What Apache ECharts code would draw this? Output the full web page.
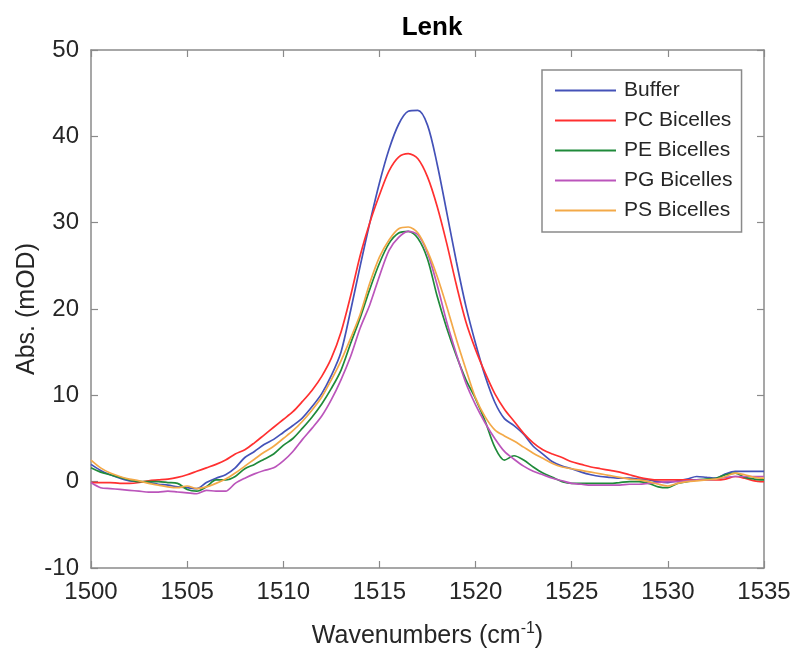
<!DOCTYPE html>
<html>
<head>
<meta charset="utf-8">
<script src="https://cdn.jsdelivr.net/npm/echarts@6/dist/echarts.min.js"></script>
<style>
html,body{margin:0;padding:0;background:#fff;}
#chart{width:793px;height:651px;}
</style>
</head>
<body>
<div id="chart"></div>
<script>
// Wavenumbers (cm^-1), 0.5 step
const wavenumbers = [];
for (let i = 0; i <= 70; i++) wavenumbers.push(1500 + i * 0.5);

const seriesNames = ['Buffer', 'PC Bicelles', 'PE Bicelles', 'PG Bicelles', 'PS Bicelles'];

const buffer = [
  2.0, 1.3, 0.8, 0.4, 0.1, 0.0, -0.1, -0.3, -0.4, -0.6,
  -0.7, -0.8, -0.1, 0.4, 0.8, 1.6, 2.8, 3.5, 4.3, 4.9,
  5.7, 6.5, 7.4, 8.7, 10.2, 12.3, 15.0, 19.8, 25.0, 30.0,
  34.6, 38.5, 41.4, 42.9, 43.0, 41.3, 36.8, 31.2, 25.5, 20.3,
  16.0, 12.2, 9.2, 7.3, 6.5, 5.5, 4.1, 3.2, 2.3, 1.8,
  1.5, 1.1, 0.8, 0.6, 0.5, 0.4, 0.4, 0.3, 0.2, 0.0,
  -0.1, 0.1, 0.3, 0.6, 0.5, 0.4, 0.9, 1.2, 1.2, 1.2, 1.2
];
const pcBicelles = [
  -0.1, -0.1, -0.1, -0.2, -0.2, -0.1, 0.1, 0.2, 0.3, 0.5,
  0.8, 1.2, 1.6, 2.0, 2.5, 3.2, 3.7, 4.5, 5.4, 6.3,
  7.2, 8.1, 9.3, 10.6, 12.2, 14.3, 17.3, 21.5, 26.2, 30.0,
  33.2, 36.0, 37.6, 38.0, 37.4, 35.3, 31.9, 27.6, 22.8, 18.5,
  15.3, 12.6, 10.2, 8.4, 7.0, 5.6, 4.5, 3.7, 3.2, 2.8,
  2.3, 2.0, 1.7, 1.5, 1.3, 1.1, 0.8, 0.5, 0.3, 0.2,
  0.2, 0.2, 0.2, 0.2, 0.2, 0.2, 0.3, 0.6, 0.4, 0.1, 0.0
];
const peBicelles = [
  1.6, 1.1, 0.8, 0.5, 0.2, 0.0, 0.0, 0.0, -0.1, -0.2,
  -0.9, -1.1, -0.6, 0.2, 0.2, 0.6, 1.5, 2.0, 2.6, 3.2,
  4.2, 5.0, 6.2, 7.5, 9.0, 10.8, 12.9, 16.0, 19.0, 22.3,
  25.3, 27.6, 28.8, 29.0, 28.2, 25.8, 21.5, 17.8, 14.6, 11.8,
  9.6, 7.0, 4.0, 2.5, 3.0, 2.5, 1.7, 1.0, 0.5, 0.0,
  -0.2, -0.2, -0.2, -0.2, -0.2, -0.1, 0.0, 0.0, -0.2, -0.6,
  -0.7, -0.2, 0.0, 0.2, 0.3, 0.4, 0.8, 1.0, 0.5, 0.3, 0.2
];
const pgBicelles = [
  -0.1, -0.7, -0.8, -0.9, -1.0, -1.1, -1.2, -1.2, -1.1, -1.2,
  -1.3, -1.4, -1.0, -1.1, -1.1, -0.2, 0.4, 0.9, 1.3, 1.6,
  2.4, 3.5, 4.9, 6.2, 7.6, 9.5, 11.8, 14.5, 17.8, 20.5,
  23.8, 26.8, 28.3, 29.0, 28.6, 26.5, 22.8, 18.5, 14.8, 11.4,
  8.9, 6.8, 5.0, 3.5, 2.6, 1.8, 1.2, 0.8, 0.4, 0.1,
  -0.2, -0.3, -0.4, -0.4, -0.4, -0.4, -0.3, -0.3, -0.2, -0.1,
  0.0, 0.0, 0.1, 0.2, 0.2, 0.3, 0.5, 0.6, 0.6, 0.6, 0.6
];
const psBicelles = [
  2.5, 1.6, 1.0, 0.6, 0.3, 0.1, -0.2, -0.4, -0.6, -0.7,
  -0.5, -0.8, -0.6, -0.2, 0.3, 1.0, 1.8, 2.6, 3.4, 4.1,
  5.0, 5.9, 7.0, 8.3, 9.8, 11.8, 14.0, 16.6, 19.4, 23.0,
  26.0, 28.0, 29.3, 29.5, 28.8, 26.7, 23.8, 20.3, 16.5, 13.0,
  9.7, 7.5, 6.0, 5.3, 4.7, 4.0, 3.3, 2.7, 2.1, 1.7,
  1.5, 1.3, 1.1, 0.9, 0.7, 0.5, 0.3, 0.2, 0.0, -0.3,
  -0.5, -0.2, 0.0, 0.1, 0.2, 0.3, 0.6, 1.0, 0.8, 0.5, 0.4
];

const xTicks = [1500, 1505, 1510, 1515, 1520, 1525, 1530, 1535];
const yTicks = [-10, 0, 10, 20, 30, 40, 50];

const seriesValues = [buffer, pcBicelles, peBicelles, pgBicelles, psBicelles];
const seriesColors = ['#4452b8', '#ff3030', '#1f8a3a', '#bb55bb', '#f3a948'];

const axisColor = '#8a8a8a';
const textColor = '#262626';
const FONT = '"Liberation Sans", Arial, Helvetica, sans-serif';

const chart = echarts.init(document.getElementById('chart'), null, {renderer: 'canvas'});

const xBase = {
  type: 'value', min: xTicks[0], max: xTicks[xTicks.length - 1], interval: 5,
  splitLine: {show: false},
  axisLine: {show: true, onZero: false, lineStyle: {color: axisColor, width: 1.5}},
  axisTick: {show: true, inside: true, length: 7, lineStyle: {color: axisColor, width: 1.2}}
};
const yBase = {
  type: 'value', min: yTicks[0], max: yTicks[yTicks.length - 1], interval: 10,
  splitLine: {show: false},
  axisLine: {show: true, onZero: false, lineStyle: {color: axisColor, width: 1.5}},
  axisTick: {show: true, inside: true, length: 7, lineStyle: {color: axisColor, width: 1.2}}
};

chart.setOption({
  animation: false,
  backgroundColor: '#ffffff',
  title: {
    text: 'Lenk', left: 427, top: 10, textAlign: 'center',
    textStyle: {fontFamily: FONT, fontSize: 26, fontWeight: 'bold', color: '#000'}
  },
  grid: {left: 91, right: 29, top: 50, bottom: 83, containLabel: false, outerBoundsMode: 'none'},
  legend: {
    orient: 'vertical', left: 542, top: 70,
    padding: [10, 9, 11, 13],
    itemWidth: 61, itemHeight: 22, itemGap: 9,
    backgroundColor: '#ffffff', borderColor: '#8a8a8a', borderWidth: 1.5,
    icon: 'path://M0,0 L61,0 L61,2 L0,2 Z',
    textStyle: {fontFamily: FONT, fontSize: 21, color: textColor, padding: [0, 0, 0, 3]},
    data: seriesNames
  },
  xAxis: [
    Object.assign({}, xBase, {
      position: 'bottom',
      name: 'Wavenumbers (cm{sup|-1})',
      nameLocation: 'middle', nameGap: 53, nameMoveOverlap: false,
      nameTextStyle: {
        fontFamily: FONT, fontSize: 25, color: textColor,
        rich: {sup: {fontFamily: FONT, fontSize: 16, color: textColor, padding: [0, 0, 14, 0]}}
      },
      axisLabel: {show: true, margin: 12, fontFamily: FONT, fontSize: 24, color: textColor,
        formatter: v => String(v)}
    }),
    Object.assign({}, xBase, {position: 'top', axisLabel: {show: false}})
  ],
  yAxis: [
    Object.assign({}, yBase, {
      position: 'left',
      name: 'Abs. (mOD)', nameLocation: 'middle', nameGap: 51, nameRotate: 90, nameMoveOverlap: false,
      nameTextStyle: {fontFamily: FONT, fontSize: 25, color: textColor},
      axisLabel: {show: true, margin: 12, fontFamily: FONT, fontSize: 24, color: textColor}
    }),
    Object.assign({}, yBase, {position: 'right', axisLabel: {show: false}})
  ],
  series: seriesNames.map((name, k) => ({
    name: name,
    type: 'line',
    xAxisIndex: 0, yAxisIndex: 0,
    smooth: 0.3,
    showSymbol: false, symbol: 'none',
    lineStyle: {color: seriesColors[k], width: 1.7},
    itemStyle: {color: seriesColors[k]},
    data: wavenumbers.map((x, i) => [x, seriesValues[k][i]])
  }))
});
</script>
</body>
</html>
